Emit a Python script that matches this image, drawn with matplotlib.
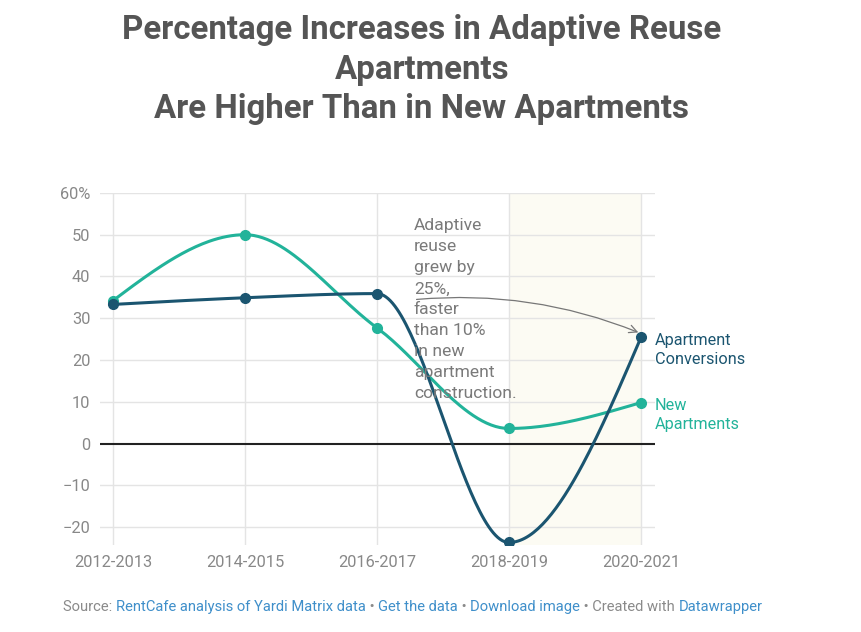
import numpy as np
import matplotlib
matplotlib.use("Agg")
import matplotlib.pyplot as plt

plt.rcParams['font.family'] = ['Roboto', 'DejaVu Sans']

categories = ["2012-2013", "2014-2015", "2016-2017", "2018-2019", "2020-2021"]
conversions = [33.3, 34.9, 35.9, -23.7, 25.4]
new_apts = [34.2, 50.0, 27.7, 3.6, 9.8]
yticks = [-20, -10, 0, 10, 20, 30, 40, 50, 60]
ytick_labels = ["−20", "−10", "0", "10", "20", "30", "40", "50", "60%"]

DARK = "#1b5570"
GREEN = "#22b39a"


def monotone_x(xs, ys, n=60):
    xs = np.asarray(xs, float); ys = np.asarray(ys, float)
    m = len(xs)
    h = np.diff(xs); s = np.diff(ys) / h
    t = np.zeros(m)
    for i in range(1, m - 1):
        h0, h1 = h[i - 1], h[i]
        s0, s1 = s[i - 1], s[i]
        p = (s0 * h1 + s1 * h0) / (h0 + h1)
        t[i] = (np.sign(s0) + np.sign(s1)) * min(abs(s0), abs(s1), 0.5 * abs(p))
    t[0] = (3 * s[0] - t[1]) / 2
    t[-1] = (3 * s[-1] - t[-2]) / 2
    X, Y = [], []
    for i in range(m - 1):
        u = np.linspace(0, 1, n)
        hh = h[i]
        h00 = 2 * u**3 - 3 * u**2 + 1
        h10 = u**3 - 2 * u**2 + u
        h01 = -2 * u**3 + 3 * u**2
        h11 = u**3 - u**2
        X.append(xs[i] + u * hh)
        Y.append(h00 * ys[i] + h10 * hh * t[i] + h01 * ys[i + 1] + h11 * hh * t[i + 1])
    return np.concatenate(X), np.concatenate(Y)


fig = plt.figure(figsize=(8.61, 6.32), dpi=100)
ax = fig.add_axes([0.1161, 0.1377, 0.6446, 0.5570])
x = np.arange(len(categories))
ax.set_xlim(-0.098, 4.106)
ax.set_ylim(-24.3, 60)

ax.axvspan(3, 4, color="#fcfbf3", zorder=0, lw=0)

for yv in yticks:
    if yv != 0:
        ax.axhline(yv, color="#e4e4e4", lw=1, zorder=1)
for xv in x:
    ax.axvline(xv, color="#e4e4e4", lw=1, zorder=1)
ax.axhline(0, color="#222222", lw=1.5, zorder=2)

for vals, col in [(new_apts, GREEN), (conversions, DARK)]:
    cx, cy = monotone_x(x, vals)
    ax.plot(cx, cy, color=col, lw=2.2, zorder=3, solid_capstyle="round")
    ax.plot(x, vals, 'o', color=col, ms=7, zorder=4)

for s in ax.spines.values():
    s.set_visible(False)
ax.set_xticks(x)
ax.set_xticklabels(categories)
ax.set_yticks(yticks)
ax.set_yticklabels(ytick_labels)
ax.tick_params(length=0, labelsize=11.8, labelcolor="#888888")
ax.tick_params(axis='x', pad=7)
ax.tick_params(axis='y', pad=7)

for (l1, l2), val, col in [(("Apartment", "Conversions"), conversions[-1], DARK),
                           (("New", "Apartments"), new_apts[-1], GREEN)]:
    ax.annotate(l1, xy=(4, val), xytext=(14, -3), textcoords="offset pixels",
                color=col, fontsize=11.7, va="center", ha="left", annotation_clip=False)
    ax.annotate(l2, xy=(4, val), xytext=(14, -22), textcoords="offset pixels",
                color=col, fontsize=11.7, va="center", ha="left", annotation_clip=False)

ax.text(2.28, 53.9, "Adaptive\nreuse\ngrew by\n25%,\nfaster\nthan 10%\nin new\napartment\nconstruction.",
        color="#7a7a7a", fontsize=12.6, va="top", ha="left", linespacing=1.5, zorder=5)
ax.annotate("", xy=(3.98, 26.6), xytext=(2.3, 34.5),
            arrowprops=dict(arrowstyle="->", color="#777777", lw=0.9,
                            connectionstyle="arc3,rad=-0.12", shrinkA=0, shrinkB=0,
                            mutation_scale=14), zorder=5)

fig.text(0.49, 0.978, "Percentage Increases in Adaptive Reuse\nApartments\nAre Higher Than in New Apartments",
         ha="center", va="top", fontsize=23.8, fontweight="bold", color="#555555", linespacing=1.31)

# footer
parts = [("Source: ", "#8a8a8a"), ("RentCafe analysis of Yardi Matrix data", "#3f8fca"),
         (" • ", "#8a8a8a"), ("Get the data", "#3f8fca"), (" • ", "#8a8a8a"),
         ("Download image", "#3f8fca"), (" • Created with ", "#8a8a8a"), ("Datawrapper", "#3f8fca")]
FS = 10.6
prev = fig.text(63 / 861, 1 - 611 / 632, parts[0][0], color=parts[0][1], fontsize=FS,
                ha="left", va="baseline")
for txt, col in parts[1:]:
    prev = ax.annotate(txt, xy=(1, 0), xycoords=prev, color=col, fontsize=FS,
                       ha="left", va="bottom", annotation_clip=False)
fig.savefig("out.png", dpi=100)
